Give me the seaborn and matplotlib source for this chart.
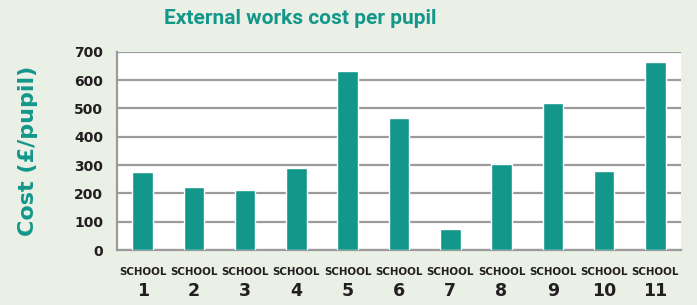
import numpy as np
import pandas as pd
import seaborn as sns
import matplotlib.pyplot as plt

schools = ["1", "2", "3", "4", "5", "6", "7", "8", "9", "10", "11"]
cost = [276, 222, 212, 290, 632, 465, 73, 304, 518, 280, 664]

teal = "#12978A"
grey = "#9B9B9B"
dark = "#231F20"
bg = "#EBF0E6"

sns.set_style("white")
plt.rcParams["font.family"] = ["DejaVu Sans"]

df = pd.DataFrame({"school": schools, "cost": cost})

fig = plt.figure(figsize=(6.97, 3.05), dpi=100, facecolor=bg)
ax = fig.add_axes([117 / 697, 1 - 250 / 305, (681 - 117) / 697, (250 - 51.7) / 305])
ax.set_facecolor("white")

sns.barplot(data=df, x="school", y="cost", color=teal, width=0.4,
            saturation=1, ax=ax, zorder=3)

ax.set_ylim(0, 700)
ax.set_xlim(-0.5, len(schools) - 0.5)
ax.set_yticks(np.arange(0, 701, 100))
ax.grid(axis="y", color=grey, linewidth=1.6, zorder=0)
ax.set_axisbelow(True)

for s in ["top", "right"]:
    ax.spines[s].set_visible(False)
for s in ["left", "bottom"]:
    ax.spines[s].set_color(grey)
    ax.spines[s].set_linewidth(1.6)

ax.tick_params(axis="y", length=5, width=1.6, color=grey, labelsize=10,
               labelcolor=dark, pad=5)
for t in ax.get_yticklabels():
    t.set_fontweight("bold")

# boundary ticks on the category axis
ax.set_xticks(np.arange(-0.5, len(schools), 1.0), minor=True)
ax.tick_params(axis="x", which="minor", length=5, width=1.6, color=grey)
ax.tick_params(axis="x", which="major", length=0, labelsize=7.4,
               labelcolor=dark, pad=12)
ax.set_xticks(range(len(schools)))
ax.set_xticklabels(["SCHOOL"] * len(schools), fontweight="bold")
for i, s in enumerate(schools):
    ax.text(i, -0.207, s, transform=ax.get_xaxis_transform(), ha="center",
            va="center", fontsize=12.5, fontweight="bold", color=dark)

ax.set_xlabel("")
ax.set_ylabel("Cost (£/pupil)", fontsize=16, fontweight="bold", color=teal)
ax.yaxis.set_label_coords((38 - 117) / 564, 0.5)

fig.text(300 / 697, 1 - 18 / 305, "External works cost per pupil",
         ha="center", va="center", fontsize=15, fontweight="bold", color=teal,
         family="Roboto")

fig.savefig("out.png", dpi=100, facecolor=bg)
